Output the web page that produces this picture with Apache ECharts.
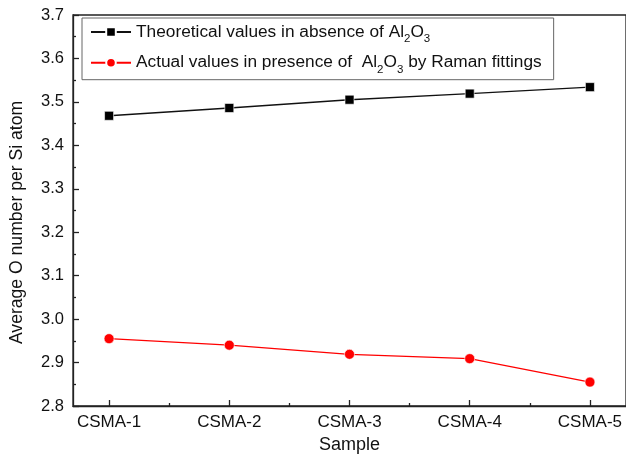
<!DOCTYPE html>
<html>
<head>
<meta charset="utf-8">
<script src="https://cdn.jsdelivr.net/npm/echarts@6/dist/echarts.min.js"></script>
<style>
  html, body { margin: 0; padding: 0; background: #fff; }
  #chart { width: 626px; height: 459px; }
</style>
</head>
<body>
<div id="chart"></div>
<script>
// Sample names, placed at x = 1..5 on a numeric axis
const categories = ['CSMA-1', 'CSMA-2', 'CSMA-3', 'CSMA-4', 'CSMA-5'];
// Average O number per Si atom
const theoretical = [3.468, 3.486, 3.505, 3.519, 3.534];
const actual = [2.955, 2.940, 2.919, 2.909, 2.855];
const yTicks = [2.8, 2.9, 3.0, 3.1, 3.2, 3.3, 3.4, 3.5, 3.6, 3.7];

const nameTheo = 'Theoretical values in absence of Al2O3';
const nameAct = 'Actual values in presence of  Al2O3 by Raman fittings';

const FONT = 'Liberation Sans, Arial, sans-serif';
const AXIS_COLOR = '#222';

function toPairs(values) {
  return values.map((v, i) => [i + 1, v]);
}

// Legend text with subscripted digits in Al2O3
function legendRich(name) {
  const idx = name.indexOf('Al2O3');
  const pre = name.slice(0, idx);
  const post = name.slice(idx + 5);
  let s = '{t|' + pre + 'Al}{s|2}{t|O}{s|3}';
  if (post) s += '{t|' + post + '}';
  return s;
}

const chart = echarts.init(document.getElementById('chart'), null, { renderer: 'canvas' });

const majorX = categories.map((c, i) => i + 1);
const minorX = [1.5, 2.5, 3.5, 4.5];

chart.setOption({
  animation: false,
  textStyle: { fontFamily: FONT },
  grid: {
    left: 68, top: 15, right: -3, bottom: 53,
    show: true, borderColor: AXIS_COLOR, borderWidth: 1.3, backgroundColor: 'transparent'
  },
  legend: {
    orient: 'vertical',
    left: 82, top: 18,
    padding: [1, 12, 4, 8],
    itemGap: 4.7,
    itemWidth: 40,
    itemHeight: 12,
    borderColor: '#666',
    borderWidth: 1,
    data: [nameTheo, nameAct],
    formatter: legendRich,
    textStyle: {
      rich: {
        t: { fontFamily: FONT, fontSize: 17.3, color: '#111', lineHeight: 22, verticalAlign: 'middle' },
        s: { fontFamily: FONT, fontSize: 11.5, color: '#111', lineHeight: 22, padding: [14, 0, 0, 0] }
      }
    }
  },
  xAxis: [
    {
      type: 'value', min: 0.7, max: 5.3,
      name: 'Sample', nameLocation: 'middle', nameGap: 25,
      nameTextStyle: { fontFamily: FONT, fontSize: 18, color: '#111' },
      axisLine: { show: true, lineStyle: { color: AXIS_COLOR, width: 1.3 } },
      axisTick: { show: true, inside: true, length: 6, customValues: majorX, lineStyle: { color: AXIS_COLOR, width: 1.3 } },
      axisLabel: {
        customValues: majorX, margin: 8,
        fontFamily: FONT, fontSize: 17, color: '#111',
        formatter: v => categories[Math.round(v) - 1] || ''
      },
      splitLine: { show: false }
    },
    {
      // minor ticks between samples
      type: 'value', min: 0.7, max: 5.3, position: 'bottom',
      axisLine: { show: false },
      axisTick: { show: true, inside: true, length: 3, customValues: minorX, lineStyle: { color: AXIS_COLOR, width: 1.3 } },
      axisLabel: { show: false },
      splitLine: { show: false }
    }
  ],
  yAxis: {
    type: 'value', min: 2.8, max: 3.7, interval: 0.1,
    name: 'Average O number per Si atom', nameLocation: 'middle', nameGap: 47,
    nameTextStyle: { fontFamily: FONT, fontSize: 17.6, color: '#111', padding: [0, 24, 0, 0] },
    axisLine: { show: true, lineStyle: { color: AXIS_COLOR, width: 1.3 } },
    axisTick: { show: true, inside: true, length: 6, lineStyle: { color: AXIS_COLOR, width: 1.3 } },
    minorTick: { show: true, splitNumber: 2, length: 3, lineStyle: { color: AXIS_COLOR, width: 1.3 } },
    axisLabel: {
      margin: 9, fontFamily: FONT, fontSize: 16.5, color: '#111',
      formatter: v => {
        const m = yTicks.find(t => Math.abs(t - v) < 1e-6);
        return m !== undefined ? m.toFixed(1) : '';
      }
    },
    splitLine: { show: false }
  },
  series: [
    {
      name: nameTheo, type: 'line', data: toPairs(theoretical),
      symbol: 'rect', symbolSize: 9,
      lineStyle: { color: '#111', width: 1.4 },
      itemStyle: { color: '#000', borderColor: '#fff', borderWidth: 0.6 }
    },
    {
      name: nameAct, type: 'line', data: toPairs(actual),
      symbol: 'circle', symbolSize: 10,
      lineStyle: { color: '#ff0000', width: 1.3 },
      itemStyle: { color: '#ff0000', borderColor: '#fff', borderWidth: 0.6 }
    }
  ]
});
</script>
</body>
</html>
